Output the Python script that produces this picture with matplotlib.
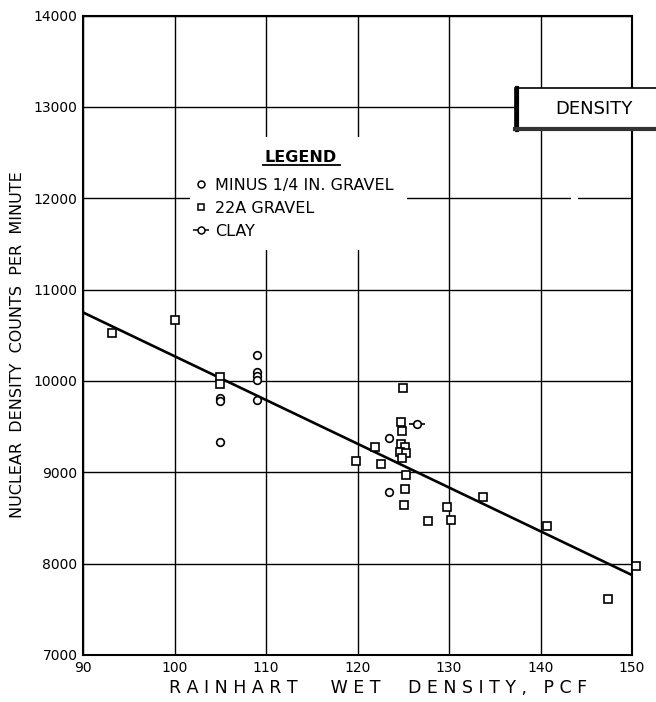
import matplotlib
matplotlib.use("Agg")
import matplotlib.pyplot as plt
from matplotlib.lines import Line2D
from matplotlib.patches import Rectangle

# minus 1/4 in. gravel (circles)
minus_x = [105.0, 105.0, 105.0, 109.0, 109.0, 109.0, 109.0, 109.0, 123.4, 123.4]
minus_y = [9815, 9782, 9333, 10286, 10100, 10056, 10012, 9793, 9377, 8785]

# 22A gravel (squares)
gravel_x = [93.2, 100.0, 105.0, 105.0, 125.0, 124.75, 124.9, 121.9, 124.75, 125.2,
            124.6, 125.3, 124.9, 119.8, 122.6, 125.3, 125.2, 125.1, 129.8, 127.7,
            130.2, 133.7, 140.7, 150.4, 147.4]
gravel_y = [10527, 10669, 10040, 9970, 9920, 9552, 9453, 9278, 9310, 9278,
            9223, 9212, 9158, 9125, 9092, 8971, 8818, 8643, 8621, 8468,
            8478, 8730, 8413, 7975, 7613]

# clay
clay_x = [126.5]
clay_y = [9530]

# fitted line end points
fit_x = [90, 150]
fit_y = [10750, 7875]

x_ticks = [90, 100, 110, 120, 130, 140, 150]
y_ticks = [7000, 8000, 9000, 10000, 11000, 12000, 13000, 14000]

W, H = 656, 702


def fx(px):
    return px / W


def fy(py):
    return 1 - py / H


plt.rcParams['font.family'] = ['DejaVu Sans']

fig = plt.figure(figsize=(W / 100, H / 100), dpi=100)
ax = fig.add_axes([fx(83), fy(655), (632 - 83) / W, (655 - 15.5) / H])

ax.set_xlim(90, 150)
ax.set_ylim(7000, 14000)
ax.set_xticks(x_ticks)
ax.set_yticks(y_ticks)
ax.tick_params(length=0, labelsize=10, pad=4)
ax.set_axisbelow(True)
ax.grid(True, color='black', lw=1.0)
for s in ax.spines.values():
    s.set_linewidth(1.5)

mk = dict(ls='none', mfc='white', mec='black', ms=5.5, mew=1.2, clip_on=False, zorder=4)
ax.plot(fit_x, fit_y, color='black', lw=1.9, zorder=3)
ax.plot(minus_x, minus_y, marker='o', **mk)
ax.plot(gravel_x, gravel_y, marker='s', **mk)
ax.plot(clay_x, clay_y, ls='none', marker='_', ms=12, mec='black', mew=1.2, zorder=4)
ax.plot(clay_x, clay_y, marker='o', **mk)

# white panel behind the legend hides the grid
ax.add_patch(Rectangle((fx(190), fy(250)), fx(407) - fx(190), fy(137) - fy(250),
                       transform=fig.transFigure, facecolor='white', edgecolor='none',
                       zorder=1, clip_on=False))
# small break in the 12000 line
ax.add_patch(Rectangle((fx(571), fy(201)), fx(578) - fx(571), fy(195) - fy(201),
                       transform=fig.transFigure, facecolor='white', edgecolor='none',
                       zorder=1, clip_on=False))

h_minus = Line2D([], [], ls='none', marker='o', mfc='white', mec='black', ms=5, mew=1.1)
h_gravel = Line2D([], [], ls='none', marker='s', mfc='white', mec='black', ms=5, mew=1.1)
h_clay = (Line2D([], [], ls='none', marker='_', ms=11, mec='black', mew=1.1),
          Line2D([], [], ls='none', marker='o', mfc='white', mec='black', ms=5, mew=1.1))
leg = ax.legend([h_minus, h_gravel, h_clay],
                ['MINUS 1/4 IN. GRAVEL', '22A GRAVEL', 'CLAY'],
                loc='upper left', bbox_to_anchor=(fx(194), fy(178)),
                bbox_transform=fig.transFigure, frameon=False, fontsize=11.5,
                handlelength=0.9, handletextpad=0.4, labelspacing=0.5,
                borderpad=0, borderaxespad=0)
leg.set_zorder(5)

fig.text(fx(301), fy(157), 'LEGEND', fontsize=11.5, fontweight='bold',
         ha='center', va='center')
fig.add_artist(Line2D([fx(263), fx(340)], [fy(165), fy(165)], color='black', lw=1.3))

# DENSITY tag at upper right
ax.add_patch(Rectangle((fx(515), fy(129)), fx(662) - fx(515), fy(88) - fy(129),
                       transform=fig.transFigure, facecolor='white', edgecolor='black',
                       lw=1.2, zorder=6, clip_on=False))
ax.add_line(Line2D([fx(516.5), fx(516.5)], [fy(88), fy(130)], color='black', lw=3,
                   transform=fig.transFigure, zorder=7, clip_on=False))
ax.add_line(Line2D([fx(515), fx(660)], [fy(128.5), fy(128.5)], color='#333333', lw=3,
                   transform=fig.transFigure, zorder=7, clip_on=False))
fig.text(fx(594), fy(109), 'DENSITY', fontsize=13, ha='center', va='center', zorder=8)

fig.text(fx(18), fy(345), 'NUCLEAR  DENSITY  COUNTS  PER  MINUTE', fontsize=11.5,
         rotation=90, ha='center', va='center')
fig.text(fx(378), fy(688), 'R A I N H A R T      W E T     D E N S I T Y ,   P C F',
         fontsize=12.5, ha='center', va='center')

fig.savefig('out.png', dpi=100)
